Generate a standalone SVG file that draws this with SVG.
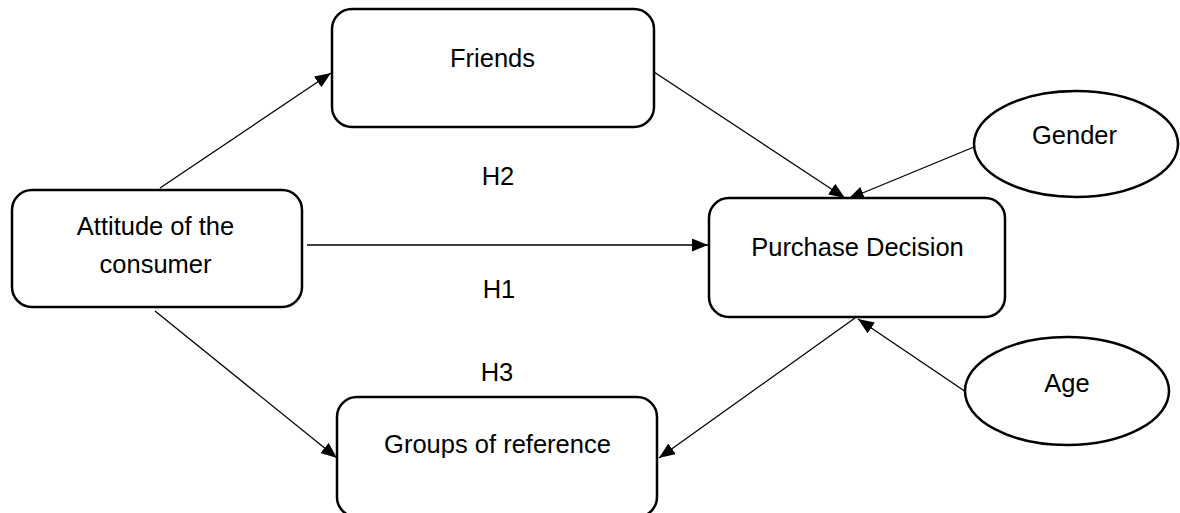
<svg xmlns="http://www.w3.org/2000/svg" width="1180" height="513" viewBox="0 0 1180 513">
<style>
.box{fill:#fff;stroke:#000;stroke-width:2.5}
.lbl{font-family:"Liberation Sans",Arial,sans-serif;font-size:25.5px;fill:#000;text-anchor:middle}
.conn{stroke:#000;stroke-width:1.3;fill:none;marker-end:url(#ah)}
</style>
<defs>
<marker id="ah" markerUnits="userSpaceOnUse" markerWidth="17" markerHeight="14" refX="16" refY="6.5" orient="auto">
<path d="M0,0 L16,6.5 L0,13 z" fill="#000"/>
</marker>
</defs>
<rect width="1180" height="513" fill="#fff"/>
<g id="connectors">
<line class="conn" x1="160" y1="188" x2="331" y2="73"/>
<line class="conn" x1="654" y1="72" x2="845" y2="198"/>
<line class="conn" x1="974" y1="147" x2="848" y2="199"/>
<line class="conn" x1="307" y1="245" x2="708" y2="245"/>
<line class="conn" x1="155" y1="311" x2="337" y2="458"/>
<line class="conn" x1="855" y1="318" x2="659" y2="458"/>
<line class="conn" x1="966" y1="392" x2="858" y2="319"/>
</g>
<g id="attitude">
<rect class="box" x="12" y="190" width="290" height="117" rx="20"/>
<text class="lbl" x="155.5" y="235">Attitude of the</text>
<text class="lbl" x="155.5" y="273">consumer</text>
</g>
<g id="friends">
<rect class="box" x="332" y="9" width="322" height="118" rx="20"/>
<text class="lbl" x="492.5" y="67">Friends</text>
</g>
<g id="purchase">
<rect class="box" x="709" y="198" width="296" height="119" rx="20"/>
<text class="lbl" x="857.5" y="256">Purchase Decision</text>
</g>
<g id="groups">
<rect class="box" x="337" y="397" width="320" height="120" rx="20"/>
<text class="lbl" x="497.5" y="453">Groups of reference</text>
</g>
<g id="gender">
<ellipse class="box" cx="1076" cy="144" rx="102" ry="53"/>
<text class="lbl" x="1074.5" y="144">Gender</text>
</g>
<g id="age">
<ellipse class="box" cx="1067" cy="391" rx="102" ry="54"/>
<text class="lbl" x="1067" y="392">Age</text>
</g>
<g id="hlabels">
<text class="lbl" x="498" y="185">H2</text>
<text class="lbl" x="499" y="298">H1</text>
<text class="lbl" x="497" y="381">H3</text>
</g>
</svg>
